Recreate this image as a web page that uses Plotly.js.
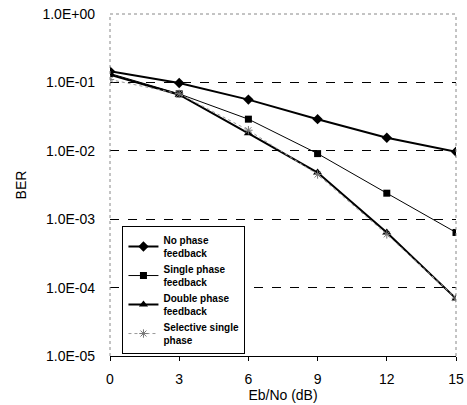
<!DOCTYPE html>
<html><head><meta charset="utf-8">
<script src="https://cdn.plot.ly/plotly-3.0.1.min.js"></script>
<style>html,body{margin:0;padding:0;background:#fff;}#chart{width:467px;height:405px;}</style>
</head><body><div id="chart"></div>
<script>
var ebno = [0, 3, 6, 9, 12, 15];
var berNoPhase = [0.145, 0.098, 0.056, 0.029, 0.0155, 0.0097];
var berSingle = [0.135, 0.068, 0.029, 0.0091, 0.0024, 0.00064];
var berDouble = [0.13, 0.066, 0.018, 0.0048, 0.00064, 0.000069];
var berSelective = [0.11, 0.068, 0.02, 0.0045, 0.0006, 0.00007];
var yTickVals = [1, 0.1, 0.01, 0.001, 0.0001, 0.00001];
var yTickText = ['1.0E+00', '1.0E-01', '1.0E-02', '1.0E-03', '1.0E-04', '1.0E-05'];
var xTickVals = [0, 3, 6, 9, 12, 15];

var traces = [
  {x: ebno, y: berNoPhase, name: '<b>No phase<br>feedback</b>', mode: 'lines+markers',
   line: {color: '#000', width: 2}, marker: {symbol: 'diamond', size: 8, color: '#000'}},
  {x: ebno, y: berSingle, name: '<b>Single phase<br>feedback</b>', mode: 'lines+markers',
   line: {color: '#000', width: 1}, marker: {symbol: 'square', size: 7, color: '#000'}},
  {x: ebno, y: berDouble, name: '<b>Double phase<br>feedback</b>', mode: 'lines+markers',
   line: {color: '#000', width: 2}, marker: {symbol: 'triangle-up', size: 8, color: '#000'}},
  {x: ebno, y: berSelective, name: '<b>Selective single<br>phase</b>', mode: 'lines+markers',
   line: {color: '#999', width: 1, dash: 'dot'}, marker: {symbol: 'asterisk-open', size: 7, color: '#777', line: {color: '#777', width: 1}}}
];

var layout = {
  width: 467, height: 405,
  margin: {l: 110, r: 11, t: 14, b: 49},
  paper_bgcolor: '#fff', plot_bgcolor: '#fff',
  font: {family: 'Liberation Sans, Arial, sans-serif', color: '#000'},
  showlegend: true,
  legend: {x: 0.036, y: 0.38, xanchor: 'left', yanchor: 'top', bgcolor: '#fff',
           bordercolor: '#000', borderwidth: 1, font: {size: 10, color: '#000'},
           tracegroupgap: 0, itemwidth: 30},
  xaxis: {range: [0, 15], tickvals: xTickVals, ticks: 'outside', ticklen: 4, tickcolor: '#000',
          showline: true, linecolor: '#000', linewidth: 1, showgrid: false, zeroline: false,
          tickfont: {size: 14}, ticklabelstandoff: 6,
          title: {text: 'Eb/No (dB)', font: {size: 14}, standoff: 0}},
  yaxis: {type: 'log', range: [-5, 0], tickvals: yTickVals, ticktext: yTickText,
          ticks: '', showline: false, showgrid: true, gridcolor: '#000', griddash: 'dash', gridwidth: 1,
          zeroline: false, tickfont: {size: 14}, ticklabelstandoff: 14,
          title: {text: 'BER', font: {size: 14}, standoff: 12}},
  shapes: [
    {type: 'line', xref: 'paper', yref: 'paper', x0: 0, x1: 1, y0: 1, y1: 1, line: {color: '#888', width: 1, dash: 'dot'}},
    {type: 'line', xref: 'paper', yref: 'paper', x0: 0, x1: 0, y0: 0, y1: 1, line: {color: '#888', width: 1, dash: 'dot'}},
    {type: 'line', xref: 'paper', yref: 'paper', x0: 1, x1: 1, y0: 0, y1: 1, line: {color: '#888', width: 1, dash: 'dot'}}
  ]
};
Plotly.newPlot('chart', traces, layout, {displayModeBar: false, staticPlot: true});
</script></body></html>
